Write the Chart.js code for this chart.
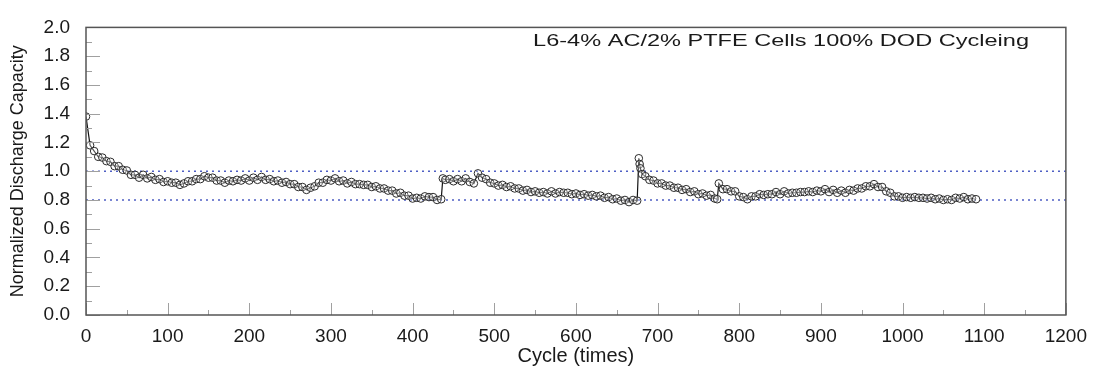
<!DOCTYPE html>
<html>
<head>
<meta charset="utf-8">
<script src="https://cdn.jsdelivr.net/npm/chart.js@4.4.0/dist/chart.umd.min.js"></script>
<style>
  html, body { margin: 0; padding: 0; background: #fff; }
  #wrap { width: 1097px; height: 369px; }
</style>
</head>
<body>
<div id="wrap"><canvas id="capacityChart" width="1097" height="369"></canvas></div>
<script>
var chartTitle = 'L6-4% AC/2% PTFE Cells 100% DOD Cycleing';
var refLevels = [1.0, 0.8];

var cycles = [
    0, 5, 10, 15, 20, 25, 30, 35, 40, 45, 50, 55, 60, 65, 70, 75, 80, 85, 90, 95,
    100, 105, 110, 115, 120, 125, 130, 135, 140, 145, 150, 155, 160, 165, 170, 175, 180, 185, 190, 195,
    200, 205, 210, 215, 220, 225, 230, 235, 240, 245, 250, 255, 260, 265, 270, 275, 280, 285, 290, 295,
    300, 305, 310, 315, 320, 325, 330, 335, 340, 345, 350, 355, 360, 365, 370, 375, 380, 385, 390, 395,
    400, 405, 410, 415, 420, 425, 430, 435, 437, 440, 445, 450, 455, 460, 465, 470, 475, 480, 485, 490, 495,
    500, 505, 510, 515, 520, 525, 530, 535, 540, 545, 550, 555, 560, 565, 570, 575, 580, 585, 590, 595,
    600, 605, 610, 615, 620, 625, 630, 635, 640, 645, 650, 655, 660, 665, 670, 675, 677, 678, 679, 681, 685, 690, 695,
    700, 705, 710, 715, 720, 725, 730, 735, 740, 745, 750, 755, 760, 765, 770, 773, 775, 780, 785, 790, 795,
    800, 805, 810, 815, 820, 825, 830, 835, 840, 845, 850, 855, 860, 865, 870, 875, 880, 885, 890, 895,
    900, 905, 910, 915, 920, 925, 930, 935, 940, 945, 950, 955, 960, 965, 970, 975, 980, 985, 990, 995,
    1000, 1005, 1010, 1015, 1020, 1025, 1030, 1035, 1040, 1045, 1050, 1055, 1060, 1065, 1070, 1075, 1080, 1085, 1090
];

var capacity = [
    1.38, 1.18, 1.14, 1.10, 1.095, 1.07, 1.065, 1.035, 1.035, 1.01, 1.005, 0.975, 0.975, 0.955, 0.975, 0.95, 0.96, 0.94, 0.945, 0.925,
    0.93, 0.92, 0.92, 0.905, 0.915, 0.93, 0.93, 0.945, 0.945, 0.965, 0.955, 0.955, 0.935, 0.935, 0.92, 0.935, 0.93, 0.94, 0.935, 0.95,
    0.935, 0.955, 0.94, 0.96, 0.94, 0.945, 0.93, 0.935, 0.92, 0.925, 0.91, 0.91, 0.89, 0.89, 0.87, 0.885, 0.895, 0.92, 0.92, 0.94,
    0.935, 0.95, 0.93, 0.935, 0.915, 0.925, 0.91, 0.91, 0.905, 0.905, 0.89, 0.895, 0.88, 0.88, 0.865, 0.865, 0.845, 0.85, 0.83, 0.83,
    0.81, 0.815, 0.81, 0.825, 0.82, 0.82, 0.80, 0.805, 0.95, 0.94, 0.945, 0.93, 0.945, 0.93, 0.95, 0.925, 0.915, 0.985, 0.955, 0.945, 0.92,
    0.915, 0.90, 0.905, 0.89, 0.895, 0.88, 0.88, 0.865, 0.87, 0.855, 0.86, 0.85, 0.855, 0.845, 0.86, 0.845, 0.855, 0.85, 0.85, 0.84,
    0.845, 0.835, 0.84, 0.83, 0.835, 0.825, 0.83, 0.815, 0.82, 0.805, 0.81, 0.795, 0.80, 0.785, 0.80, 0.795, 1.09, 1.05, 1.02, 0.98, 0.965, 0.94, 0.935,
    0.915, 0.915, 0.90, 0.90, 0.885, 0.885, 0.87, 0.875, 0.855, 0.86, 0.84, 0.845, 0.83, 0.835, 0.81, 0.805, 0.915, 0.875, 0.875, 0.86, 0.86,
    0.825, 0.82, 0.805, 0.825, 0.825, 0.84, 0.835, 0.84, 0.84, 0.855, 0.84, 0.86, 0.845, 0.85, 0.85, 0.855, 0.855, 0.86, 0.855, 0.865,
    0.86, 0.875, 0.855, 0.87, 0.85, 0.865, 0.85, 0.87, 0.865, 0.88, 0.88, 0.895, 0.895, 0.91, 0.89, 0.89, 0.86, 0.85, 0.825, 0.825,
    0.815, 0.82, 0.815, 0.82, 0.815, 0.815, 0.81, 0.815, 0.805, 0.81, 0.80, 0.805, 0.80, 0.815, 0.81, 0.82, 0.805, 0.81, 0.805
];

var xMin = 0, xMax = 1200;
var yMin = 0, yMax = 2;

// frame, inward ticks and the title inside the plot
var framePlugin = {
    id: 'frameTicks',
    afterDraw: function(chart) {
        var ctx = chart.ctx;
        var area = chart.chartArea;
        var xs = chart.scales.x, ys = chart.scales.y;
        ctx.save();
        ctx.strokeStyle = '#a0a0a0';
        ctx.lineWidth = 1;
        ctx.beginPath();
        for (var v = 0; v <= 20; v++) {
            var py = Math.round(ys.getPixelForValue(v / 10)) + 0.5;
            var len = (v % 2 === 0) ? 14 : 6;
            ctx.moveTo(area.left, py);
            ctx.lineTo(area.left + len, py);
        }
        for (var c = 0; c <= 24; c++) {
            var px = Math.round(xs.getPixelForValue(c * 50)) + 0.5;
            var l = (c % 2 === 0) ? 12 : 5;
            ctx.moveTo(px, area.bottom);
            ctx.lineTo(px, area.bottom - l);
        }
        ctx.stroke();

        ctx.strokeStyle = '#555';
        ctx.lineWidth = 1.5;
        ctx.strokeRect(area.left, area.top, area.right - area.left, area.bottom - area.top);

        ctx.fillStyle = '#1a1a1a';
        ctx.font = '17px "Liberation Sans", Arial, sans-serif';
        ctx.textAlign = 'right';
        ctx.textBaseline = 'middle';
        ctx.translate(1029, 41);
        ctx.scale(1.385, 1);
        ctx.fillText(chartTitle, 0, 0);
        ctx.restore();
    }
};

document.addEventListener('DOMContentLoaded', function() {
    var ctx = document.getElementById('capacityChart').getContext('2d');

    var points = cycles.map(function(c, i) { return { x: c, y: capacity[i] }; });

    var refSets = refLevels.map(function(level) {
        return {
            data: [{ x: xMin, y: level }, { x: xMax, y: level }],
            borderColor: '#4f5fc4',
            borderWidth: 1.5,
            borderDash: [2, 4],
            pointRadius: 0,
            fill: false
        };
    });

    new Chart(ctx, {
        type: 'line',
        data: {
            datasets: [{
                data: points,
                borderColor: '#111',
                borderWidth: 1.2,
                pointRadius: 3.8,
                pointBorderWidth: 1,
                pointBorderColor: '#2a2a2a',
                pointBackgroundColor: 'rgba(255,255,255,0.3)',
                tension: 0,
                fill: false
            }].concat(refSets)
        },
        options: {
            responsive: false,
            animation: false,
            layout: { padding: { top: 18, right: 30, left: 0, bottom: 0 } },
            plugins: {
                legend: { display: false },
                tooltip: { enabled: false }
            },
            scales: {
                x: {
                    type: 'linear',
                    min: xMin,
                    max: xMax,
                    grid: { display: false, drawTicks: false },
                    border: { display: false },
                    ticks: {
                        stepSize: 100,
                        padding: 10,
                        color: '#1a1a1a',
                        font: { family: '"Liberation Sans", Arial, sans-serif', size: 19 },
                        maxRotation: 0,
                        callback: function(v) { return String(v); }
                    },
                    title: {
                        display: true,
                        text: 'Cycle (times)',
                        color: '#1a1a1a',
                        font: { family: '"Liberation Sans", Arial, sans-serif', size: 20 },
                        padding: { top: 0, bottom: 1 }
                    },
                    afterFit: function(scale) { scale.height = 54; }
                },
                y: {
                    min: yMin,
                    max: yMax,
                    grid: { display: false, drawTicks: false },
                    border: { display: false },
                    ticks: {
                        stepSize: 0.2,
                        padding: 16,
                        color: '#1a1a1a',
                        font: { family: '"Liberation Sans", Arial, sans-serif', size: 19 },
                        callback: function(v) { return v.toFixed(1); }
                    },
                    title: {
                        display: true,
                        text: 'Normalized Discharge Capacity',
                        color: '#1a1a1a',
                        font: { family: '"Liberation Sans", Arial, sans-serif', size: 18 },
                        padding: { top: 7, bottom: 0 }
                    },
                    afterFit: function(scale) { scale.width = 86; }
                }
            }
        },
        plugins: [framePlugin]
    });
});
</script>
</body>
</html>
